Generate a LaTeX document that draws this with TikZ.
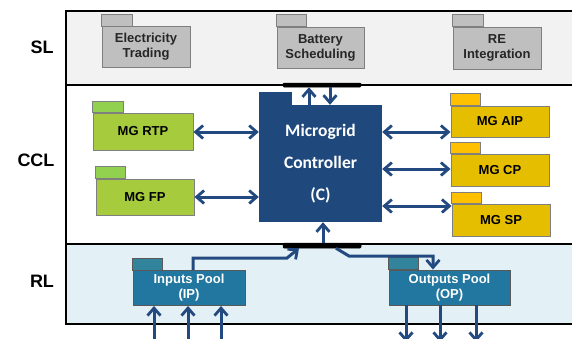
\documentclass[tikz,border=0pt]{standalone}
\usepackage{fontspec}
\setmainfont{Liberation Sans}
\newfontfamily\ctrlfont{Carlito}
\usetikzlibrary{arrows.meta}

\definecolor{slfill}{HTML}{F2F2F2}
\definecolor{rlfill}{HTML}{E3F0F5}
\definecolor{graybody}{HTML}{BFBFBF}
\definecolor{grayedge}{HTML}{7F7F7F}
\definecolor{greenbody}{HTML}{A6CC3E}
\definecolor{greentab}{HTML}{92D050}
\definecolor{goldbody}{HTML}{E6BE00}
\definecolor{goldtab}{HTML}{FFC000}
\definecolor{ctrlblue}{HTML}{1F497D}
\definecolor{poolbody}{HTML}{2177A0}
\definecolor{pooltab}{HTML}{31849B}
\definecolor{arrowblue}{HTML}{234A80}

\tikzset{
  band/.style={draw=black, line width=1.8pt},
  layerlabel/.style={font=\fontsize{18}{20}\selectfont\bfseries},
  pkg/.style={draw=grayedge, line width=0.9pt, inner sep=0pt, align=center,
              font=\fontsize{13}{15}\selectfont\bfseries},
  graypkg/.style={pkg, fill=graybody, text=black!85},
  greenpkg/.style={pkg, fill=greenbody, text=black},
  goldpkg/.style={pkg, fill=goldbody, text=black},
  poolpkg/.style={pkg, fill=poolbody, text=white, draw=gray!70!black},
  tabgray/.style={draw=grayedge, line width=0.9pt, fill=graybody},
  tabgreen/.style={draw=grayedge, line width=0.9pt, fill=greentab},
  tabgold/.style={draw=grayedge, line width=0.9pt, fill=goldtab},
  tabpool/.style={draw=gray!70!black, line width=0.9pt, fill=pooltab},
  busbar/.style={fill=black, draw=black, line width=0.5pt, rounded corners=1pt},
  barb/.tip={Straight Barb[length=7.5pt, width=13pt, line width=2.8pt]},
  link/.style={draw=arrowblue, line width=3pt, -barb},
  duallink/.style={link, barb-barb},
}

\begin{document}
\begin{tikzpicture}[x=1pt, y=-1pt]
\useasboundingbox (0,0) rectangle (572,338);
\clip (0,0) rectangle (572,338);

% layer bands
\fill[slfill] (66,11) rectangle (580,85);
\fill[white] (66,85) rectangle (580,244);
\fill[rlfill] (66,244) rectangle (580,324);
\draw[band] (580,11) -- (66,11) -- (66,324) -- (580,324);
\draw[band] (66,85) -- (580,85);
\draw[band] (66,244) -- (580,244);

\node[layerlabel] (lsl) at (42,47) {SL};
\node[layerlabel] (lccl) at (36,160) {CCL};
\node[layerlabel] (lrl) at (42,281) {RL};

% strategy layer packages
\node[graypkg, minimum width=88pt, minimum height=41pt] (et) at (146,47) {Electricity\\Trading};
\draw[tabgray] (et.north west) rectangle ++(31,-12);
\node[graypkg, minimum width=87pt, minimum height=41pt] (bs) at (320.5,47.5) {Battery\\Scheduling};
\draw[tabgray] (bs.north west) rectangle ++(30,-12);
\node[graypkg, minimum width=88pt, minimum height=42pt] (re) at (497,48) {RE\\Integration};
\draw[tabgray] (re.north west) rectangle ++(31,-12);

% buses
\node[busbar, minimum width=78pt, minimum height=4pt, inner sep=0pt] (topbus) at (322,85) {};
\node[busbar, minimum width=78pt, minimum height=5pt, inner sep=0pt] (botbus) at (322,245.5) {};

% microgrid controller
\node[fill=ctrlblue, inner sep=0pt, minimum width=123pt, minimum height=117pt,
      text=white, align=center, font=\ctrlfont\fontsize{17.5}{32}\selectfont\bfseries]
      (ctrl) at (320.5,163.5) {Microgrid\\Controller\\(C)};
\fill[ctrlblue] (ctrl.north west) rectangle ++(33,-13);

% coordination layer packages
\node[greenpkg, minimum width=100pt, minimum height=37pt] (rtp) at (143,131.5) {MG RTP};
\draw[tabgreen] (rtp.north west) rectangle ++(31,-11);
\node[greenpkg, minimum width=98pt, minimum height=36pt] (fp) at (145,197) {MG FP};
\draw[tabgreen] (fp.north west) rectangle ++(30,-12);
\node[goldpkg, minimum width=98pt, minimum height=31pt] (aip) at (500,121.5) {MG AIP};
\draw[tabgold] (aip.north west) rectangle ++(30,-12);
\node[goldpkg, minimum width=98pt, minimum height=32pt] (cp) at (500,170) {MG CP};
\draw[tabgold] (cp.north west) rectangle ++(30,-11);
\node[goldpkg, minimum width=98pt, minimum height=32pt] (sp) at (501,220) {MG SP};
\draw[tabgold] (sp.north west) rectangle ++(30,-11);

% regulation layer pools
\node[poolpkg, minimum width=112pt, minimum height=35pt] (ip) at (189,288) {Inputs Pool\\(IP)};
\draw[tabpool] (ip.north west) rectangle ++(30,-12);
\node[poolpkg, minimum width=121pt, minimum height=35pt] (op) at (449.5,287.5) {Outputs Pool\\(OP)};
\draw[tabpool] (op.north west) rectangle ++(30,-12);

% controller to bus links
\draw[link] (ctrl.north -| 309,0) -- (topbus.south -| 309,0);
\draw[link] (topbus.south -| 330,0) -- (ctrl.north -| 330,0);
\draw[link] (botbus.north -| 323,0) -- (ctrl.south -| 323,0);

% controller to package links
\draw[duallink] (rtp.east |- 0,132) -- (ctrl.west |- 0,132);
\draw[duallink] (fp.east |- 0,197) -- (ctrl.west |- 0,197);
\draw[duallink] (ctrl.east |- 0,132) -- (aip.west |- 0,132);
\draw[duallink] (ctrl.east |- 0,169) -- (cp.west |- 0,169);
\draw[duallink] (ctrl.east |- 0,206) -- (sp.west |- 0,206);

% pool links
\draw[link] (ip.north -| 193,0) -- (193,258) -- (287,258) -- (botbus.south west -| 299,0);
\draw[link] (botbus.south -| 336,0) -- (349,256) -- (433,256) -- (op.north -| 433,0);

% external inputs and outputs
\foreach \x/\n in {154/a,188/b,221/c} {
  \coordinate (in\n) at (\x,345);
  \draw[link] (in\n) -- (ip.south -| in\n);
}
\foreach \x/\n in {406/a,440/b,476/c} {
  \coordinate (out\n) at (\x,342);
  \draw[link] (op.south -| out\n) -- (out\n);
}
\end{tikzpicture}
\end{document}
